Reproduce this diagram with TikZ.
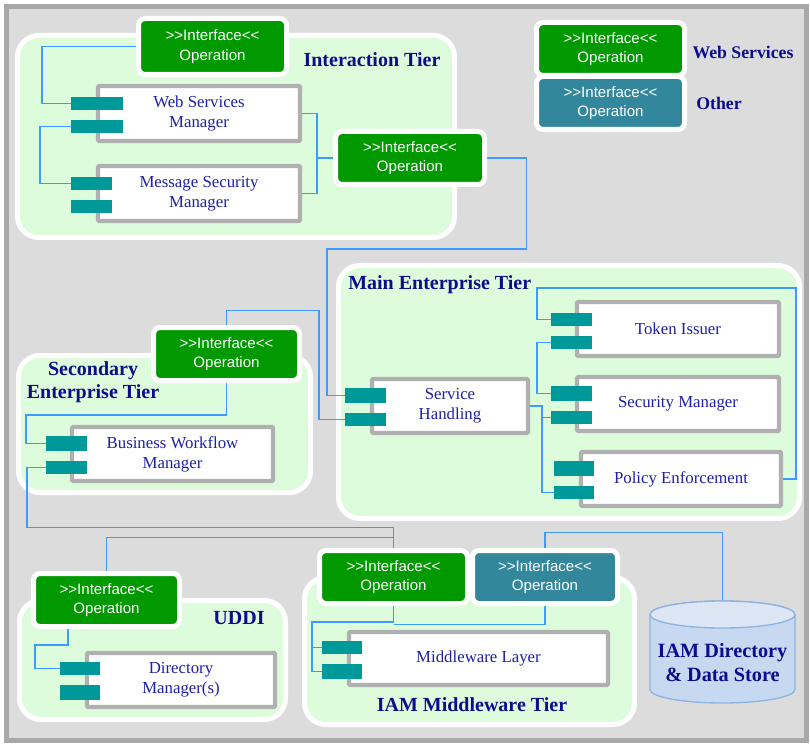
\documentclass[tikz,border=0pt]{standalone}
\usepackage{fontspec}
\setmainfont{Liberation Serif}
\newfontfamily\ifacefont{Liberation Sans}
\usetikzlibrary{calc}

\definecolor{framebg}{HTML}{DCDCDC}
\definecolor{framegray}{HTML}{A8A8A8}
\definecolor{panelgreen}{HTML}{DDFCDC}
\definecolor{ifgreen}{HTML}{009900}
\definecolor{ifteal}{HTML}{33879C}
\definecolor{portteal}{HTML}{009999}
\definecolor{boxgray}{HTML}{B0B0B0}
\definecolor{wireblue}{HTML}{3D9BFF}
\definecolor{navy}{HTML}{0C0C8C}
\definecolor{compblue}{HTML}{2020A6}
\definecolor{dbfill}{HTML}{C6D9F1}
\definecolor{dbtopfill}{HTML}{DCE6F4}
\definecolor{dbline}{HTML}{8DB3E2}

\newcommand\gtgt{>\kern0pt>}
\newcommand\ltlt{<\kern0pt<}

\pgfdeclarelayer{back}
\pgfdeclarelayer{wires}
\pgfsetlayers{back,wires,main}

\begin{document}
\begin{tikzpicture}[x=0.75pt,y=-0.75pt,
  % rectangle spanning two corner points (pixel grid, y downwards)
  span/.style n args={4}{at={({(#1+#3)/2},{(#2+#4)/2})},
    minimum width={(#3-#1)*0.75pt},minimum height={(#4-#2)*0.75pt}},
  panel/.style={rectangle,draw=white,line width=3.75pt,fill=panelgreen,rounded corners=16pt,inner sep=0pt},
  iface/.style={rectangle,draw=white,line width=3.75pt,fill=ifgreen,rounded corners=5pt,inner sep=0pt,
    text=white,align=center,font=\ifacefont\fontsize{11.3}{14.5}\selectfont},
  ifaceother/.style={iface,fill=ifteal},
  comp/.style={rectangle,draw=boxgray,line width=3.3pt,fill=white,rounded corners=1pt,inner sep=0pt,
    text=compblue,align=center,font=\fontsize{12.6}{15}\selectfont},
  port/.style={rectangle,fill=portteal,draw=none,inner sep=0pt},
  tier/.style={text=navy,inner sep=0pt,align=center,font=\bfseries\fontsize{15}{17.5}\selectfont},
  legendlbl/.style={text=navy,inner sep=0pt,font=\bfseries\fontsize{13.3}{15}\selectfont},
  dbtext/.style={text=navy,inner sep=0pt,align=center,font=\bfseries\fontsize{15.2}{17.5}\selectfont},
  conn/.style={draw=wireblue,line width=1.3pt}]

\useasboundingbox (0,0) rectangle (810,745);

\begin{pgfonlayer}{back}
  \fill[white] (0,0) rectangle (810,745);
  % outer frame
  \draw[fill=framebg,draw=framegray,line width=3.75pt] (6.5,6.5) rectangle (806.5,740.5);
  % tier panels
  \node[panel,span={17.5}{35.5}{454.5}{237.5}] (pint) {};
  \node[panel,span={338.5}{265.5}{799.5}{518.5}] (pmain) {};
  \node[panel,span={18.5}{355.5}{310.5}{492.5}] (psec) {};
  \node[panel,span={19.5}{600.5}{285.5}{719.5}] (puddi) {};
  \node[panel,span={304.5}{577.5}{634.5}{724.5}] (piam) {};
\end{pgfonlayer}

% interface operations
\node[iface,span={138.5}{18.5}{286.5}{74.5}] (i1) {\gtgt Interface\ltlt\\Operation};
\node[iface,span={335.5}{131.5}{484.5}{184.5}] (i2) {\gtgt Interface\ltlt\\Operation};
\node[iface,span={153.5}{327.5}{299.5}{380.5}] (isec) {\gtgt Interface\ltlt\\Operation};
\node[iface,span={33.5}{573.5}{179.5}{626.5}] (iuddi) {\gtgt Interface\ltlt\\Operation};
\node[iface,span={319.5}{550.5}{467.5}{603.5}] (iiam) {\gtgt Interface\ltlt\\Operation};
\node[ifaceother,span={472.5}{550.5}{617.5}{603.5}] (iother) {\gtgt Interface\ltlt\\Operation};

% legend
\node[iface,span={536.5}{22.5}{684.5}{75.5}] (legws) {\gtgt Interface\ltlt\\Operation};
\node[ifaceother,span={536.5}{76.5}{684.5}{129.5}] (legoth) {\gtgt Interface\ltlt\\Operation};
\node[legendlbl] (lws) at (743,52) {Web Services};
\node[legendlbl] (loth) at (719,103) {Other};

% components
\node[comp,span={98}{86}{300}{141}] (wsm) {Web Services\\Manager};
\node[comp,span={98}{166}{300}{221}] (msm) {Message Security\\Manager};
\node[comp,span={577}{302}{779}{356}] (tok) {Token Issuer};
\node[comp,span={577}{377}{779}{431}] (sec) {Security Manager};
\node[comp,span={581}{452}{781}{506}] (pol) {Policy Enforcement};
\node[comp,span={372}{379}{528}{433}] (sh) {Service\\Handling};
\node[comp,span={72}{427}{273}{481}] (bwm) {Business Workflow\\Manager};
\node[comp,span={87}{653}{275}{707}] (dir) {Directory\\Manager(s)};
\node[comp,span={349}{632}{608}{685}] (mw) {Middleware Layer};

% component ports
\node[port,span={71}{97}{123}{110}] (wsmA) {};
\node[port,span={71}{120}{123}{133}] (wsmB) {};
\node[port,span={71}{177}{112}{190}] (msmA) {};
\node[port,span={71}{200}{112}{213}] (msmB) {};
\node[port,span={551}{313}{592}{326}] (tokA) {};
\node[port,span={551}{336}{592}{349}] (tokB) {};
\node[port,span={551}{386}{592}{401}] (secA) {};
\node[port,span={551}{411}{592}{424}] (secB) {};
\node[port,span={554}{461}{594}{476}] (polA) {};
\node[port,span={554}{486}{594}{499}] (polB) {};
\node[port,span={345}{388}{386}{403}] (shA) {};
\node[port,span={345}{413}{386}{426}] (shB) {};
\node[port,span={46}{436}{87}{451}] (bwmA) {};
\node[port,span={46}{461}{87}{474}] (bwmB) {};
\node[port,span={60}{662}{100}{675}] (dirA) {};
\node[port,span={60}{685}{100}{700}] (dirB) {};
\node[port,span={322}{641}{362}{654}] (mwA) {};
\node[port,span={322}{664}{362}{679}] (mwB) {};

% tier titles
\node[tier] (lint) at (372,60) {Interaction Tier};
\node[tier,anchor=west] (lmain) at (348,285) {Main Enterprise Tier};
\node[tier] (lsec) at (93,382.5) {Secondary\\Enterprise Tier};
\node[tier] (luddi) at (239,618) {UDDI};
\node[tier] (liam) at (472,705) {IAM Middleware Tier};

% data store cylinder
\path[fill=dbfill,draw=dbline,line width=1pt]
  (650,614.5) -- (650,689.5)
  arc[start angle=180,end angle=360,x radius=54.375pt,y radius=10.125pt]
  -- (795,614.5)
  arc[start angle=0,end angle=180,x radius=54.375pt,y radius=10.125pt] -- cycle;
\draw[fill=dbtopfill,draw=dbline,line width=1pt] (722.5,614.5) ellipse [x radius=54.375pt,y radius=10.125pt];
\coordinate (dbtop) at (722.5,601);
\node[dbtext] (db) at (722.5,662.5) {IAM Directory\\\& Data Store};

% connectors
\begin{pgfonlayer}{wires}
  \draw[conn] (i1.west) -| ($(wsmA.west)+(-29,0)$) -- (wsmA.west);
  \draw[conn] (wsmB.west) -- ++(-31,0) |- (msmA.west);
  \draw[conn] (wsm.east) -- ++(15,0) |- (msm.east);
  \draw[conn] (i2.west) -| ($(wsm.east)+(15,0)$);
  \draw[conn] (i2.east) -- ++(39.5,0) |- ($(shA.west)+(-18,-146.5)$) |- (shA.west);
  \draw[conn] (isec.north) -- ++(0,-14.5) -| ($(shB.west)+(-26,0)$) -- (shB.west);
  \draw[conn] (isec.south) |- ($(bwmA.west)+(-20,-28.5)$) |- (bwmA.west);
  \draw[conn] (bwmB.west) -- ++(-19,0) |- ($(iiam.north)+(0,-20.5)$) -- (iiam.north);
  \draw[conn] (iuddi.north) |- ($(iiam.north)+(0,-10.5)$);
  \draw[conn] ($(iuddi.south)+(-38.5,0)$) |- ($(dirA.west)+(-25,-23.5)$) |- (dirA.west);
  \draw[conn] (iiam.south) |- ($(mwB.west)+(-10,-49.5)$) |- (mwB.west);
  \draw[conn] ($(mwB.west)+(-10,0)$) |- (mwA.west);
  \draw[conn] (iother.south) |- ($(iiam.south)+(0,18.5)$);
  \draw[conn] (iother.north) -- ++(0,-15.5) -| (dbtop);
  \draw[conn] (sh.east) -- ++(12,0) |- (polB.west);
  \draw[conn] ($(sh.east)+(12,0)$) |- (secB.west);
  \draw[conn] (tokB.west) -- ++(-14,0) |- (secA.west);
  \draw[conn] (tokA.west) -- ++(-14,0) |- ($(pol.east)+(13,-191)$) |- (pol.east);
\end{pgfonlayer}
\end{tikzpicture}
\end{document}
